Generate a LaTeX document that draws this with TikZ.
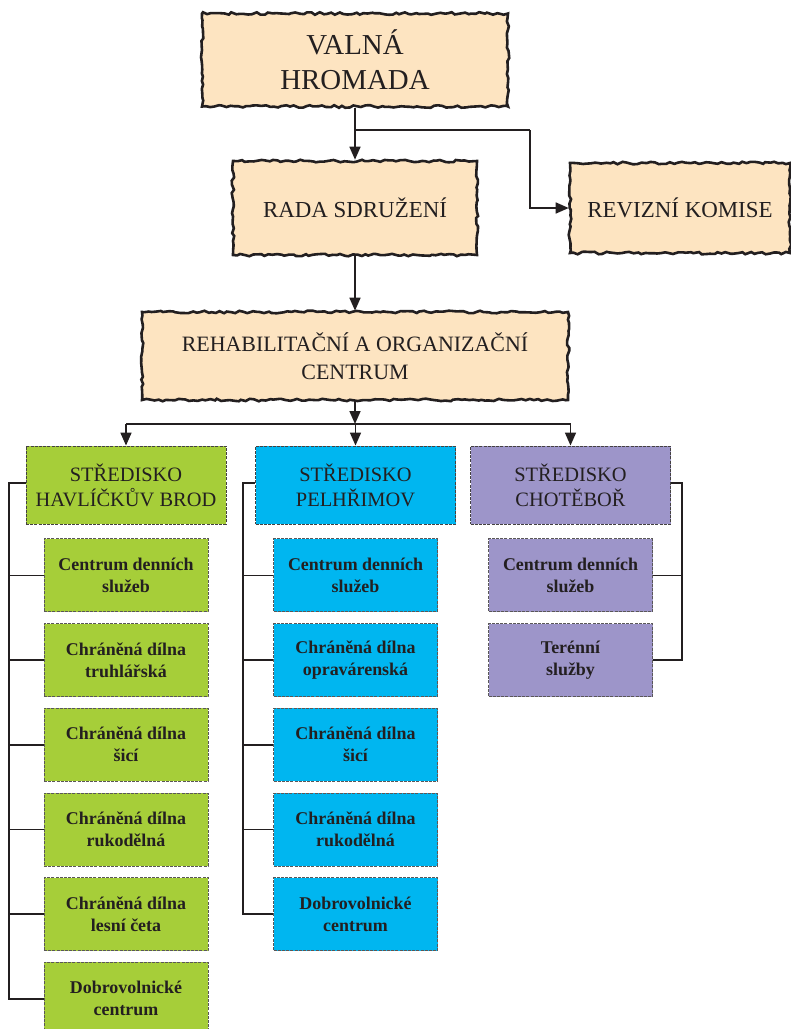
\documentclass[tikz,border=0pt]{standalone}
\usepackage{fontspec}
\setmainfont{Liberation Serif}
\usetikzlibrary{positioning, arrows.meta, decorations.pathmorphing}
\definecolor{ink}{HTML}{231F20}
\definecolor{beige}{HTML}{FDE4C1}
\definecolor{zelena}{HTML}{A6CE39}
\definecolor{modra}{HTML}{00B6F0}
\definecolor{fialova}{HTML}{9D95C9}
\tikzset{
  rough/.style={fill=beige, draw=ink, line width=2.6bp, decorate,
    decoration={random steps, segment length=4bp, amplitude=1.3bp},
    text=ink, align=center, inner sep=0pt},
  head/.style={draw=ink!85, dash pattern=on 3bp off 1.2bp, line width=0.9bp,
    minimum width=200bp, minimum height=78bp, align=center, text=ink,
    font=\fontsize{20.5}{25}\selectfont, inner sep=0pt},
  sub/.style={draw=ink!75, dash pattern=on 3bp off 1.2bp, line width=0.7bp,
    minimum width=164bp, minimum height=73bp, align=center, text=ink,
    font=\bfseries\fontsize{18}{22}\selectfont, inner sep=0pt},
  arr/.style={-{Triangle[length=13bp,width=11bp]}, line width=1.6bp, draw=ink},
  bus/.style={line width=1.6bp, draw=ink}
}
\begin{document}
\begin{tikzpicture}[x=1bp, y=-1bp]
\useasboundingbox (0,0) rectangle (791,1029);
\pgfmathsetseed{7}
% vedeni
\node[rough, minimum width=306bp, minimum height=93bp, font=\fontsize{29}{35}\selectfont] (vh) at (355,60) {VALNÁ\\HROMADA};
\node[rough, minimum width=244bp, minimum height=94bp, font=\fontsize{23}{28}\selectfont] (rs) at (355,208) {RADA SDRUŽENÍ};
\node[rough, minimum width=220bp, minimum height=90bp, font=\fontsize{23}{28}\selectfont] (rk) at (680,208) {REVIZNÍ KOMISE};
\node[rough, minimum width=426bp, minimum height=88bp, font=\fontsize{22}{28}\selectfont] (roc) at (355,356) {REHABILITAČNÍ A ORGANIZAČNÍ\\CENTRUM};
% strediska
\node[head, fill=zelena] (hb) at (126,485) {STŘEDISKO\\HAVLÍČKŮV BROD};
\node[head, fill=modra] (pe) at (355.5,485) {STŘEDISKO\\PELHŘIMOV};
\node[head, fill=fialova] (ch) at (570.5,485) {STŘEDISKO\\CHOTĚBOŘ};
% Havlickuv Brod
\node[sub, fill=zelena, below=14bp of hb] (hb1) {Centrum denních\\služeb};
\node[sub, fill=zelena, below=11bp of hb1] (hb2) {Chráněná dílna\\truhlářská};
\node[sub, fill=zelena, below=11bp of hb2] (hb3) {Chráněná dílna\\šicí};
\node[sub, fill=zelena, below=11bp of hb3] (hb4) {Chráněná dílna\\rukodělná};
\node[sub, fill=zelena, below=11bp of hb4] (hb5) {Chráněná dílna\\lesní četa};
\node[sub, fill=zelena, below=11bp of hb5] (hb6) {Dobrovolnické\\centrum};
% Pelhrimov
\node[sub, fill=modra, below=14bp of pe] (pe1) {Centrum denních\\služeb};
\node[sub, fill=modra, below=11bp of pe1] (pe2) {Chráněná dílna\\opravárenská};
\node[sub, fill=modra, below=11bp of pe2] (pe3) {Chráněná dílna\\šicí};
\node[sub, fill=modra, below=11bp of pe3] (pe4) {Chráněná dílna\\rukodělná};
\node[sub, fill=modra, below=11bp of pe4] (pe5) {Dobrovolnické\\centrum};
% Chotebor
\node[sub, fill=fialova, below=14bp of ch] (ch1) {Centrum denních\\služeb};
\node[sub, fill=fialova, below=11bp of ch1] (ch2) {Terénní\\služby};
% spojnice
\draw[arr] (vh.south) -- (rs.north);
\coordinate (j1) at (355,130);
\coordinate (k1) at (530,130);
\draw[bus] (j1) -- (k1);
\draw[arr] (k1) |- (rk.west);
\draw[arr] (rs.south) -- (roc.north);
\coordinate (j2) at (355,424);
\draw[arr] (roc.south) -- (j2);
\draw[bus] (hb.north |- j2) -- (ch.north |- j2);
\foreach \n in {hb,pe,ch}
  \draw[arr] (\n.north |- j2) -- (\n.north);
\coordinate (gb) at (9,483);
\draw[bus] (hb.west |- gb) -- (gb) |- (hb6.west);
\foreach \i in {1,...,5}
  \draw[bus] (hb\i.west) -- (gb |- hb\i.west);
\coordinate (bb) at (243,483);
\draw[bus] (pe.west |- bb) -- (bb) |- (pe5.west);
\foreach \i in {1,...,4}
  \draw[bus] (pe\i.west) -- (bb |- pe\i.west);
\coordinate (fb) at (682,483);
\draw[bus] (ch.east |- fb) -- (fb) |- (ch2.east);
\draw[bus] (ch1.east) -- (fb |- ch1.east);
\end{tikzpicture}
\end{document}
